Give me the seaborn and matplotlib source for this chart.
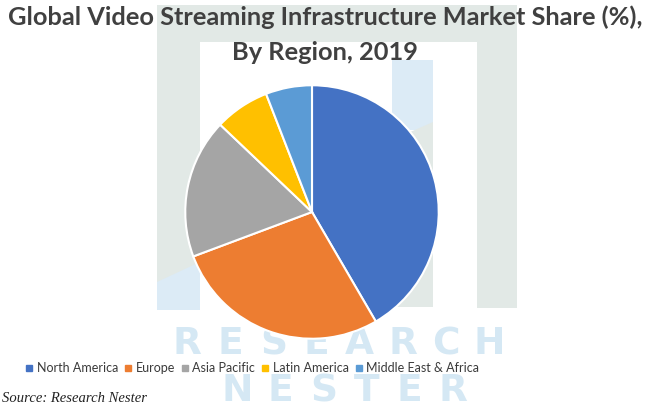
import matplotlib
matplotlib.use("Agg")
import matplotlib.pyplot as plt
from matplotlib.patches import Rectangle, Polygon
from matplotlib.lines import Line2D
import seaborn as sns

# ---- data ----
regions = ["North America", "Europe", "Asia Pacific", "Latin America", "Middle East & Africa"]
shares = [41.6, 27.7, 17.8, 7.0, 5.9]
colors = ["#4472C4", "#ED7D31", "#A5A5A5", "#FFC000", "#5B9BD5"]
title_lines = ["Global Video Streaming Infrastructure Market Share (%),", "By Region, 2019"]
source = "Source: Research Nester"
watermark = ["RESEARCH", "NESTER"]

sns.set_theme(style="white")
plt.rcParams["font.family"] = ["Lato", "DejaVu Sans"]
palette = sns.color_palette(colors)

W, H = 650, 411
fig = plt.figure(figsize=(W / 100, H / 100), dpi=100)
fig.patch.set_facecolor("white")

# ---- background watermark (pixel coordinates) ----
bg = fig.add_axes([0, 0, 1, 1])
bg.set_xlim(0, W)
bg.set_ylim(H, 0)
bg.axis("off")
gg = "#e2e9e6"
lb = "#dcebf6"
wm = "#d5e8f4"
bg.add_patch(Rectangle((157, 5), 360, 37, color=gg, lw=0))
bg.add_patch(Rectangle((157, 42), 43, 240, color=gg, lw=0))
bg.add_patch(Polygon([(157, 282), (200, 262), (200, 310), (157, 310)], color=lb, lw=0))
bg.add_patch(Rectangle((477, 42), 40, 266, color=gg, lw=0))
bg.add_patch(Rectangle((392, 60), 41, 70, color=lb, lw=0))
bg.add_patch(Polygon([(392, 140), (433, 122), (433, 307), (392, 307)], color=gg, lw=0))
for word, x0, ybase in [(watermark[0], 170, 354), (watermark[1], 220, 401)]:
    for i, ch in enumerate(word):
        bg.text(x0 + 17 + i * 43.2, ybase, ch, ha="center", va="baseline", fontsize=27,
                color=wm, fontweight="bold", family="DejaVu Sans")

# ---- pie ----
cx, cy, r = 312, 212, 128
ax = fig.add_axes([(cx - r) / W, (H - cy - r) / H, 2 * r / W, 2 * r / H])
ax.pie(shares, colors=palette, startangle=90, counterclock=False,
       wedgeprops=dict(edgecolor="white", linewidth=1.5))
ax.set_xlim(-1.01, 1.01)
ax.set_ylim(-1.01, 1.01)
ax.set_aspect("auto")
ax.axis("off")

# ---- title ----
for line, yb in zip(title_lines, [25, 60]):
    fig.text(0.5, 1 - yb / H, line, ha="center", va="baseline", fontsize=18.3,
             fontweight="bold", color="#404040")

# ---- legend ----
handles = [Line2D([0], [0], marker="s", linestyle="none", markersize=5,
                  markerfacecolor=c, markeredgecolor=c) for c in palette]
fig.legend(handles, regions, loc="center", bbox_to_anchor=(252 / W, 1 - 368 / H),
           ncol=5, frameon=False, fontsize=9, labelcolor="#3a3a3a",
           handletextpad=0.25, columnspacing=0.45, handlelength=0.7,
           borderaxespad=0, borderpad=0)

# ---- source ----
fig.text(2 / W, 1 - 402 / H, source, ha="left", va="baseline", fontsize=10.5,
         style="italic", family="Liberation Serif", color="#222222")

fig.savefig("out.png", dpi=100)
